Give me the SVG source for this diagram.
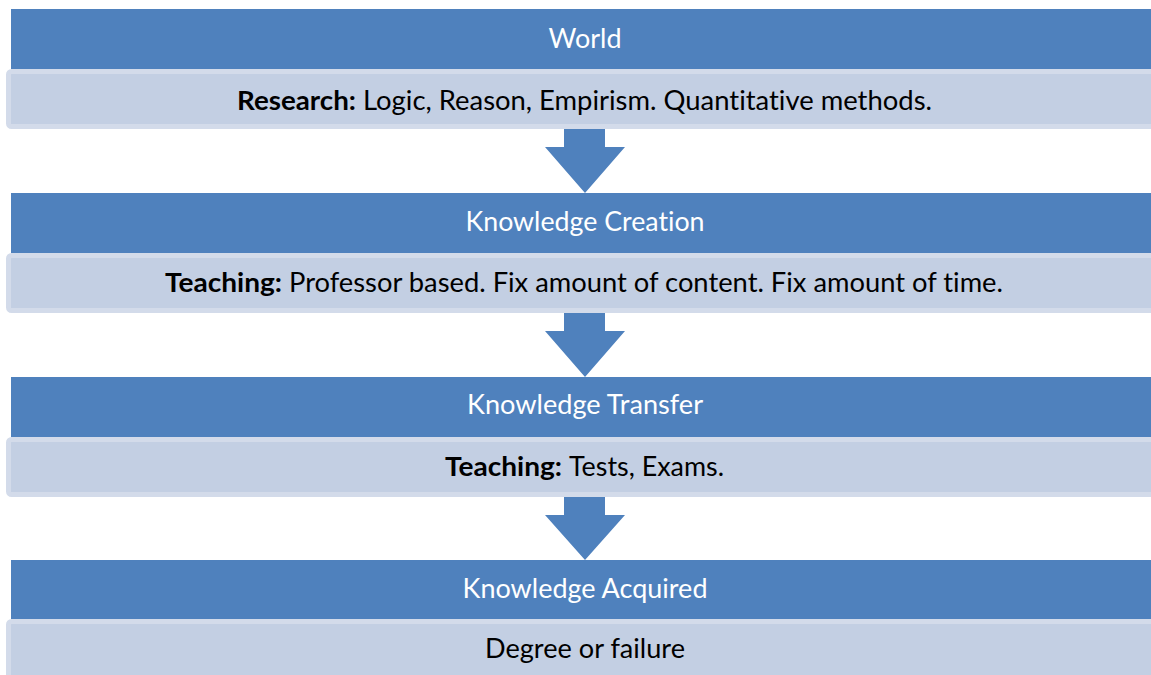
<svg xmlns="http://www.w3.org/2000/svg" width="1151" height="675" viewBox="0 0 1151 675">
<style>
.hdr{fill:#4f81bd}
.sub{fill:#c3cfe3;stroke:#d3dbea;stroke-width:5}
.ht{font-family:Lato,"Open Sans","Liberation Sans",sans-serif;font-size:26px;fill:#ffffff;text-anchor:middle;font-variant-ligatures:none}
.st{font-family:Lato,"Open Sans","Liberation Sans",sans-serif;font-size:26px;fill:#000000;font-variant-ligatures:none}
.b{font-weight:bold}
.arr{fill:#4f81bd}
</style>
<rect width="1151" height="675" fill="#ffffff"/>
<g id="world">
<rect class="hdr" x="11" y="9" width="1160" height="60"/>
<text class="ht" x="585" y="48" textLength="73" lengthAdjust="spacingAndGlyphs">World</text>
</g>
<g id="research">
<rect class="sub" x="8.5" y="71.5" width="1170" height="55" rx="3"/>
<text class="st" y="110"><tspan class="b" x="237" textLength="119" lengthAdjust="spacingAndGlyphs">Research:</tspan><tspan x="363" textLength="569" lengthAdjust="spacingAndGlyphs">Logic, Reason, Empirism. Quantitative methods.</tspan></text>
</g>
<g id="creation">
<rect class="hdr" x="11" y="193" width="1160" height="60"/>
<text class="ht" x="585" y="231" textLength="239" lengthAdjust="spacingAndGlyphs">Knowledge Creation</text>
</g>
<g id="teaching1">
<rect class="sub" x="8.5" y="255.5" width="1170" height="55" rx="3"/>
<text class="st" y="292"><tspan class="b" x="165" textLength="117" lengthAdjust="spacingAndGlyphs">Teaching:</tspan><tspan x="289" textLength="714" lengthAdjust="spacingAndGlyphs">Professor based. Fix amount of content. Fix amount of time.</tspan></text>
</g>
<g id="transfer">
<rect class="hdr" x="11" y="377" width="1160" height="60"/>
<text class="ht" x="585" y="414" textLength="236" lengthAdjust="spacingAndGlyphs">Knowledge Transfer</text>
</g>
<g id="teaching2">
<rect class="sub" x="8.5" y="439.5" width="1170" height="55" rx="3"/>
<text class="st" y="476"><tspan class="b" x="445" textLength="117" lengthAdjust="spacingAndGlyphs">Teaching:</tspan><tspan x="569" textLength="155" lengthAdjust="spacingAndGlyphs">Tests, Exams.</tspan></text>
</g>
<g id="acquired">
<rect class="hdr" x="11" y="560" width="1160" height="59"/>
<text class="ht" x="585" y="598" textLength="245" lengthAdjust="spacingAndGlyphs">Knowledge Acquired</text>
</g>
<g id="degree">
<rect class="sub" x="8.5" y="621.5" width="1170" height="56" rx="3"/>
<text class="st" x="585" y="658" text-anchor="middle" textLength="200" lengthAdjust="spacingAndGlyphs">Degree or failure</text>
</g>
<g id="connectors">
<polygon class="arr" points="564,129 605,129 605,147 625,147 585,193 545,147 564,147"/>
<polygon class="arr" points="564,313 605,313 605,331 625,331 585,377 545,331 564,331"/>
<polygon class="arr" points="564,497 605,497 605,515 625,515 585,560 545,515 564,515"/>
</g>
</svg>
